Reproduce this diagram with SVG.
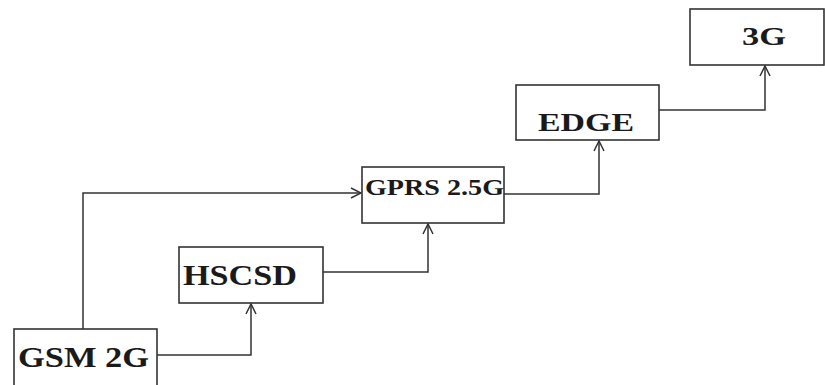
<svg xmlns="http://www.w3.org/2000/svg" width="825" height="385" viewBox="0 0 825 385">
<style>
.box{fill:#fff;stroke:#333;stroke-width:1.6}
.lbl{font-family:"Liberation Serif","Times New Roman",serif;font-weight:bold;fill:#1a1a1a}
.conn{fill:none;stroke:#333;stroke-width:1.5}
</style>
<defs>
<marker id="arr" viewBox="0 0 12 12" refX="11" refY="6" markerWidth="12" markerHeight="12" markerUnits="userSpaceOnUse" orient="auto">
<path d="M1,1 L11,6 L1,11" fill="none" stroke="#333" stroke-width="1.5"/>
</marker>
</defs>
<rect width="825" height="385" fill="#fff"/>
<g id="connectors">
<path class="conn" d="M83,329 V193 H361" marker-end="url(#arr)"/>
<path class="conn" d="M157,355 H251 V304" marker-end="url(#arr)"/>
<path class="conn" d="M323,272 H428 V224" marker-end="url(#arr)"/>
<path class="conn" d="M504,194 H599 V141" marker-end="url(#arr)"/>
<path class="conn" d="M659,110 H765 V66" marker-end="url(#arr)"/>
</g>
<g id="gsm2g">
<rect class="box" x="14" y="329" width="143" height="62"/>
<text class="lbl" x="18" y="367" font-size="30" textLength="131" lengthAdjust="spacingAndGlyphs">GSM 2G</text>
</g>
<g id="hscsd">
<rect class="box" x="179" y="247" width="144" height="56"/>
<text class="lbl" x="183" y="285" font-size="29" textLength="114" lengthAdjust="spacingAndGlyphs">HSCSD</text>
</g>
<g id="gprs">
<rect class="box" x="362" y="167" width="142" height="56"/>
<text class="lbl" x="365" y="195" font-size="23" textLength="139" lengthAdjust="spacingAndGlyphs">GPRS 2.5G</text>
</g>
<g id="edge">
<rect class="box" x="516" y="85" width="143" height="55"/>
<text class="lbl" x="538" y="131" font-size="26" textLength="96" lengthAdjust="spacingAndGlyphs">EDGE</text>
</g>
<g id="g3">
<rect class="box" x="690" y="9" width="134" height="56"/>
<text class="lbl" x="742" y="45" font-size="25" textLength="44" lengthAdjust="spacingAndGlyphs">3G</text>
</g>
</svg>
